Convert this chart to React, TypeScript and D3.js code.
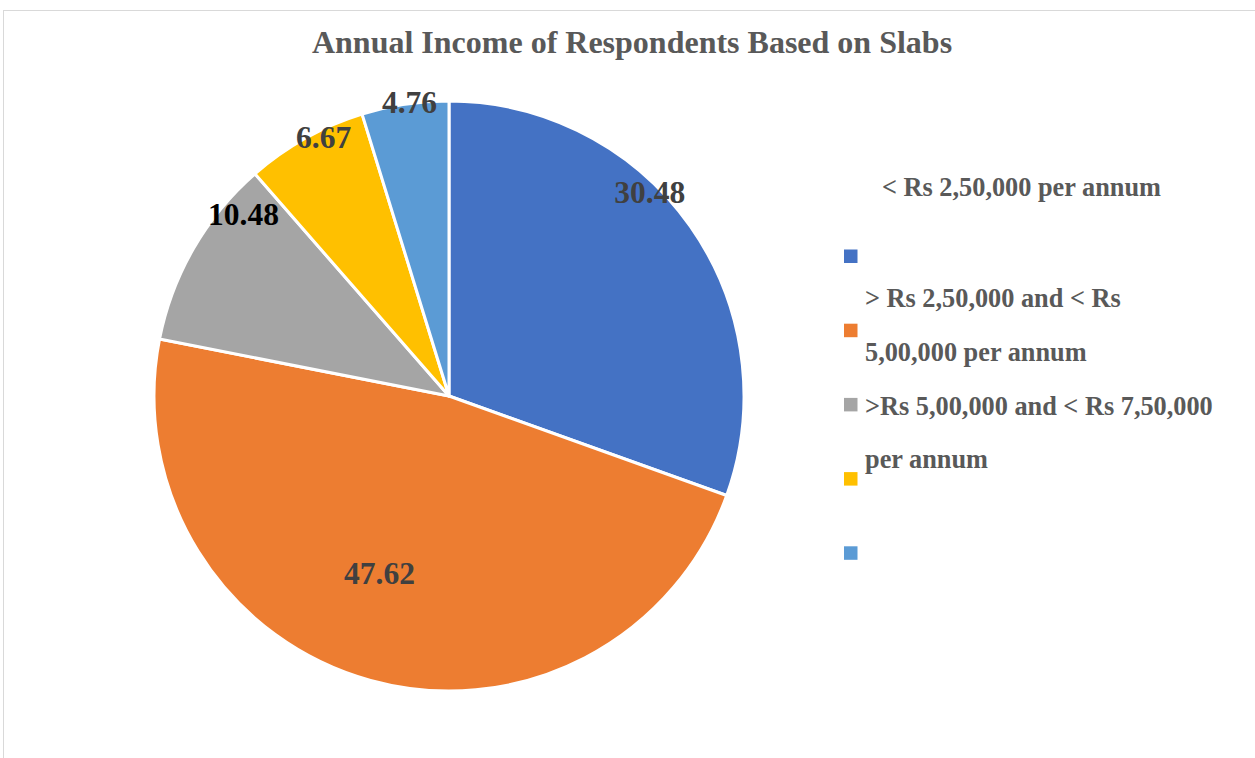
import React from "react";
import * as d3 from "d3";

const categories = [
  "< Rs 2,50,000 per annum",
  "> Rs 2,50,000 and < Rs 5,00,000 per annum",
  ">Rs 5,00,000 and < Rs 7,50,000 per annum",
  "> Rs 7,50,000 and < Rs 10,00,000 per annum",
  "> Rs 10,00,000 per annum",
];
const values = [30.48, 47.62, 10.48, 6.67, 4.76];
const colors = ["#4472C4", "#ED7D31", "#A5A5A5", "#FFC000", "#5B9BD5"];
const labelColors = ["#404040", "#404040", "#000000", "#404040", "#404040"];
// label placement: radial fraction and angular shift (deg) relative to slice mid
const labelRadius = [0.97, 0.645, 0.93, 0.975, 1.005];
const labelShift = [-10.3, 6.0, 11.5, 3.3, 0.9];
// legend text lines as rendered (wrapped oddly in the reference)
const legendLines = [
  { text: "< Rs 2,50,000 per annum", dx: 38, baseline: 196 },
  { text: "> Rs 2,50,000 and < Rs", dx: 21, baseline: 307 },
  { text: "5,00,000 per annum", dx: 21, baseline: 361 },
  { text: ">Rs 5,00,000 and < Rs 7,50,000", dx: 21, baseline: 415 },
  { text: "per annum", dx: 21, baseline: 468 },
];

export default function App() {
  const W = 1255, H = 758;
  const cx = 449, cy = 396, R = 295;
  const pie = d3.pie<number>().sort(null).value((d) => d);
  const arcs = pie(values);
  const arc = d3.arc<d3.PieArcDatum<number>>().innerRadius(0).outerRadius(R);
  const legendX = 844;
  const legendY0 = 249.5;
  const legendStep = 74.2;
  const font = "'Liberation Serif', 'Times New Roman', serif";
  return (
    <svg width={W} height={H} style={{ position: "absolute", left: 0, top: 0 }} xmlns="http://www.w3.org/2000/svg">
      <rect x={0} y={0} width={W} height={H} fill="#fff" />
      <rect x={3.5} y={10.5} width={W + 20} height={H + 20} fill="none" stroke="#d9d9d9" strokeWidth={1} />
      <text x={632} y={53} textAnchor="middle" fontFamily={font} fontWeight="bold" fontSize={32} fill="#595959">
        Annual Income of Respondents Based on Slabs
      </text>
      <g transform={`translate(${cx},${cy})`}>
        {arcs.map((a, i) => (
          <path key={i} d={arc(a) || ""} fill={colors[i]} stroke="#fff" strokeWidth={3} strokeLinejoin="round" />
        ))}
        {arcs.map((a, i) => {
          const mid = (a.startAngle + a.endAngle) / 2 + (labelShift[i] * Math.PI) / 180;
          const r = R * labelRadius[i];
          const x = Math.sin(mid) * r;
          const y = -Math.cos(mid) * r;
          return (
            <text key={i} x={x} y={y} dy="0.35em" textAnchor="middle" fontFamily={font} fontWeight="bold" fontSize={31.5} fill={labelColors[i]}>
              {d3.format(".2f")(values[i])}
            </text>
          );
        })}
      </g>
      <g>
        {categories.map((c, i) => (
          <rect key={c} x={legendX} y={legendY0 + i * legendStep} width={13.5} height={13.5} fill={colors[i]} />
        ))}
        {legendLines.map((l, i) => (
          <text key={i} x={legendX + l.dx} y={l.baseline} fontFamily={font} fontWeight="bold" fontSize={26.3} fill="#595959">
            {l.text}
          </text>
        ))}
      </g>
    </svg>
  );
}
